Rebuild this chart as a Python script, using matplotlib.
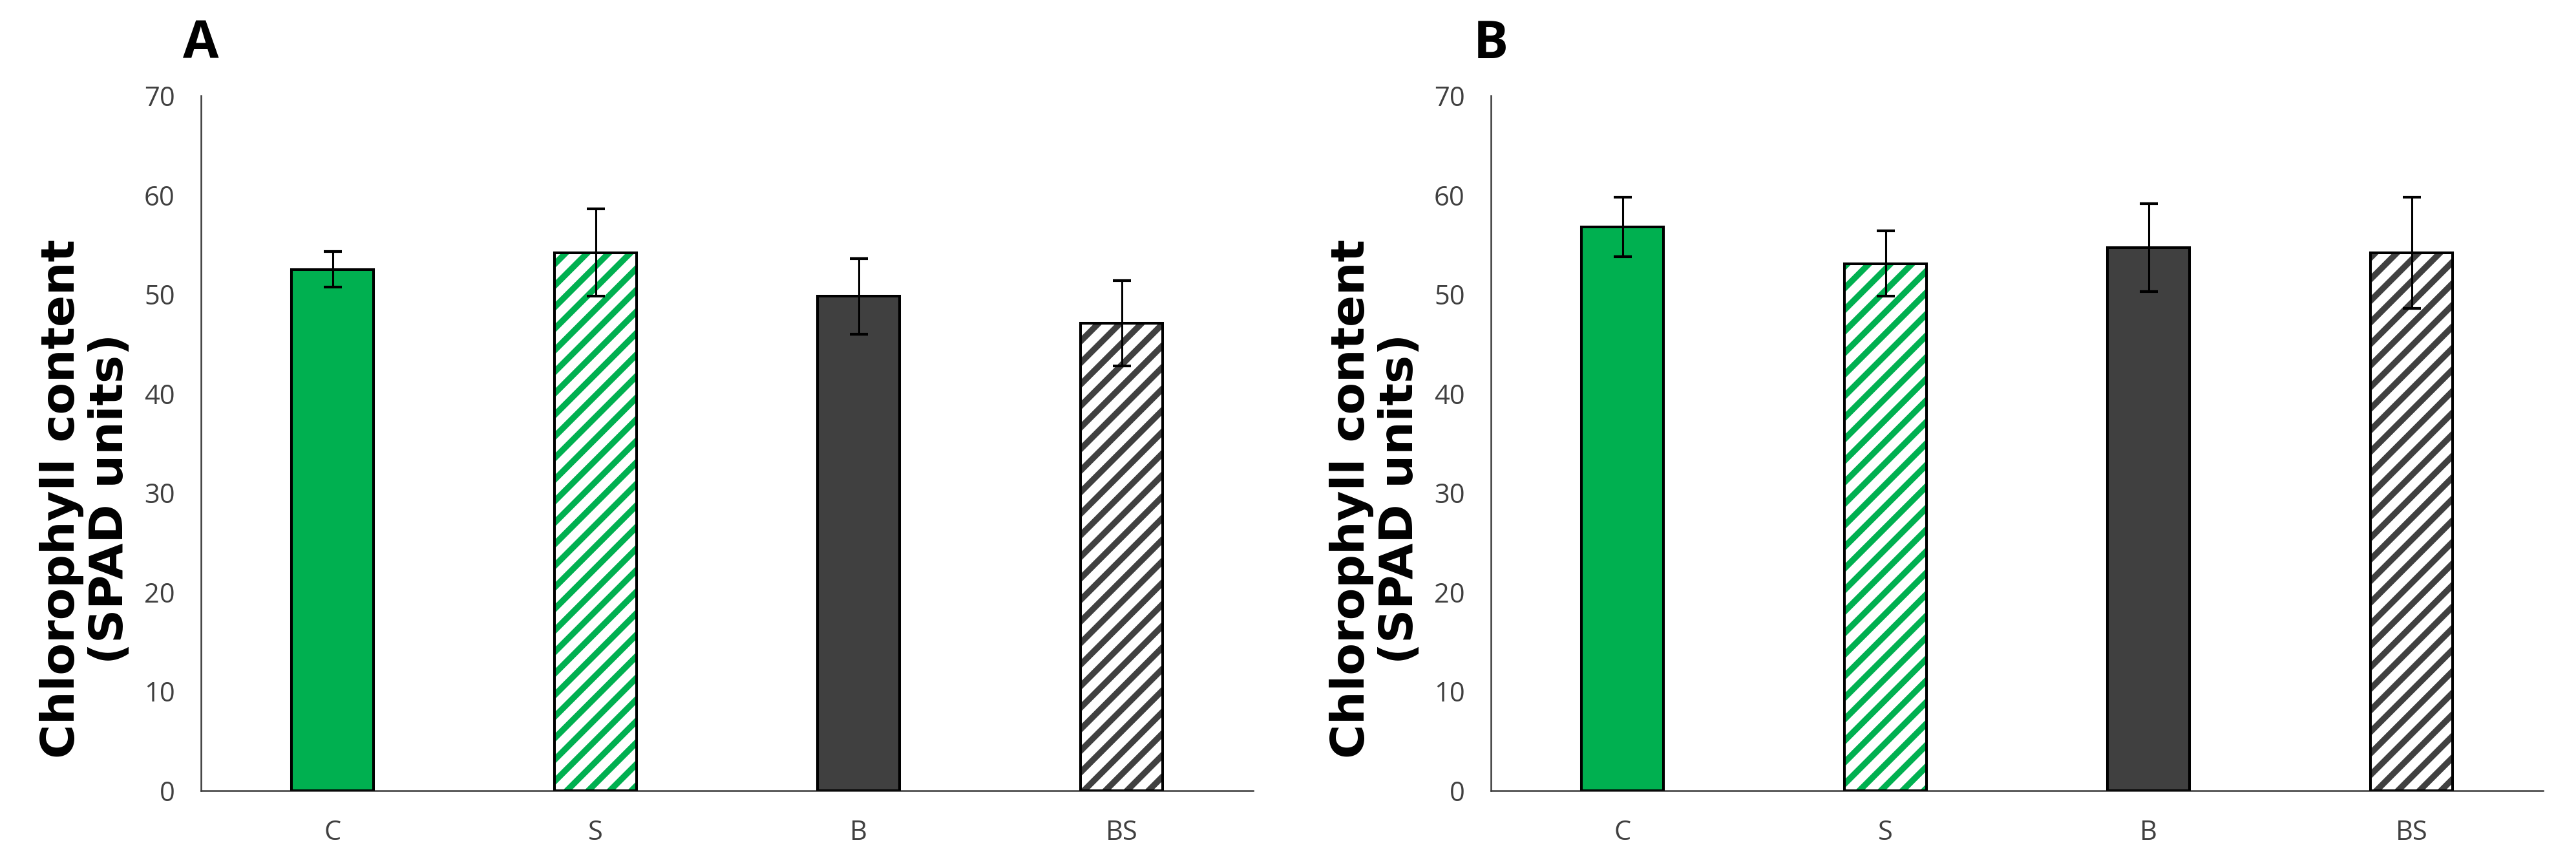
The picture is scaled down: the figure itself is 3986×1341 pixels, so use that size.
import matplotlib.pyplot as plt
from matplotlib import font_manager

# treatments and SPAD readings (mean +- sd) for the two panels
categories = ["C", "S", "B", "BS"]
panel_a_mean = [52.5, 54.2, 49.8, 47.1]
panel_a_err = [1.8, 4.4, 3.8, 4.3]
panel_b_mean = [56.8, 53.1, 54.7, 54.2]
panel_b_err = [3.0, 3.3, 4.4, 5.6]
panel_names = ["A", "B"]

GREEN = "#00B050"
DARK = "#404040"

available = {f.name for f in font_manager.fontManager.ttflist}
TICK_FONT = "Liberation Sans Narrow" if "Liberation Sans Narrow" in available else "Open Sans"

plt.rcParams["hatch.linewidth"] = 3.4

fig = plt.figure(figsize=(3986 / 200, 1341 / 200), dpi=200)
ax_a = fig.add_axes([311 / 3986, 118 / 1341, 1628 / 3986, 1075 / 1341])
ax_b = fig.add_axes([2307 / 3986, 118 / 1341, 1628 / 3986, 1075 / 1341])

# face, hatch colour per bar
styles = [
    (GREEN, None, GREEN),
    ("white", "//", GREEN),
    (DARK, None, DARK),
    ("white", "//", DARK),
]


def draw_panel(ax, means, errs, name):
    x = range(len(categories))
    for i, (face, hatch, hcol) in enumerate(styles):
        # hatch layer first, then a black outline on top
        ax.bar(i, means[i], width=0.31, color=face, hatch=hatch,
               edgecolor=hcol, linewidth=0, zorder=2)
        ax.bar(i, means[i], width=0.31, fill=False,
               edgecolor="black", linewidth=1.45, zorder=3)
    ax.errorbar(x, means, yerr=errs, fmt="none", ecolor="black",
                elinewidth=1.1, capsize=5, capthick=1.5, zorder=4)

    ax.set_xlim(-0.5, 3.5)
    ax.set_ylim(0, 70)
    ax.set_yticks(range(0, 71, 10))
    ax.set_xticks(list(x))
    ax.set_xticklabels(categories)
    for lab in ax.get_xticklabels() + ax.get_yticklabels():
        lab.set_fontfamily(TICK_FONT)
        lab.set_fontsize(15)
        lab.set_color("#404040")
    ax.tick_params(axis="both", length=0)
    ax.tick_params(axis="y", pad=14.5)
    ax.tick_params(axis="x", pad=16)

    for side in ["top", "right"]:
        ax.spines[side].set_visible(False)
    for side in ["left", "bottom"]:
        ax.spines[side].set_color("#3a3a3a")
        ax.spines[side].set_linewidth(0.9)

    ax.text(-178 / 1628, 0.42, "Chlorophyll content\n(SPAD units)",
            transform=ax.transAxes, rotation=90, ha="center", va="center",
            multialignment="center", fontsize=26, fontweight="bold",
            family="DejaVu Sans", linespacing=1.1)
    ax.text(0, (1223 - 90) / 1075, name, transform=ax.transAxes,
            ha="center", va="baseline", fontsize=29, fontweight="bold",
            family="Open Sans")


draw_panel(ax_a, panel_a_mean, panel_a_err, panel_names[0])
draw_panel(ax_b, panel_b_mean, panel_b_err, panel_names[1])

fig.savefig("out.png", dpi=200, facecolor="white")
